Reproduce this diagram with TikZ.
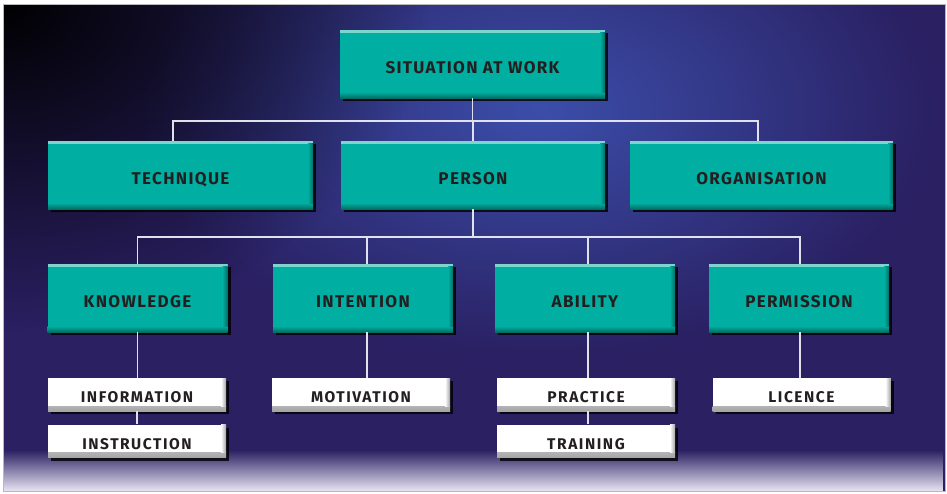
\documentclass[tikz,border=0pt]{standalone}
\usepackage{fontspec}
\newfontfamily\tfont{Fira Sans}[LetterSpace=8]
\newfontfamily\wfont{Fira Sans}[LetterSpace=10]
\usetikzlibrary{shadows,fadings}
\definecolor{tealbox}{RGB}{0,174,162}
\definecolor{teallight}{RGB}{125,214,206}
\definecolor{tealdark}{RGB}{0,110,100}
\definecolor{txt}{RGB}{35,31,32}
\definecolor{bgbase}{RGB}{42,32,98}
\definecolor{glow}{RGB}{60,78,170}
\definecolor{lav}{RGB}{234,230,244}
\definecolor{connc}{RGB}{225,225,238}
\definecolor{wgray}{RGB}{165,165,165}
\tikzfading[name=radfade, inner color=transparent!0, outer color=transparent!100]
\tikzfading[name=upfade, top color=transparent!100, bottom color=transparent!0]
\begin{document}
\begin{tikzpicture}[x=1pt,y=-1pt,
  tbox/.style={rectangle, fill=tealbox, inner sep=0pt, text=txt,
    font=\tfont\bfseries\fontsize{17}{20}\selectfont,
    text height=18pt, text depth=0pt,
    drop shadow={shadow xshift=3pt, shadow yshift=-3pt, opacity=0.8, fill=black},
    path picture={
      \fill[teallight] (path picture bounding box.north west) rectangle ([yshift=-2.5pt]path picture bounding box.north east);
      \shade[top color=tealbox, bottom color=tealdark] ([yshift=6pt]path picture bounding box.south west) rectangle (path picture bounding box.south east);
      \shade[left color=tealbox, right color=tealdark] ([xshift=-5pt,yshift=-2.5pt]path picture bounding box.north east) rectangle ([yshift=6pt]path picture bounding box.south east);
    }},
  wbox/.style={rectangle, fill=white, inner sep=0pt, text=txt,
    font=\wfont\bfseries\fontsize{15.5}{18}\selectfont,
    text height=16.5pt, text depth=0pt,
    minimum width=178, minimum height=33,
    drop shadow={shadow xshift=3pt, shadow yshift=-3pt, opacity=0.8, fill=black},
    path picture={
      \shade[top color=white, bottom color=wgray] ([yshift=5pt]path picture bounding box.south west) rectangle (path picture bounding box.south east);
      \shade[left color=white, right color=wgray] ([xshift=-5pt]path picture bounding box.north east) rectangle ([yshift=5pt]path picture bounding box.south east);
    }},
  conn/.style={draw=connc, line width=1.3pt}
]
\useasboundingbox (0,0) rectangle (947,493);
% background
\fill[white] (0,0) rectangle (947,493);
\begin{scope}
\clip (3,4) rectangle (945,491);
\fill[bgbase] (3,4) rectangle (945,491);
\fill[glow, path fading=radfade] (540,110) ellipse (400 and 250);
\fill[black, path fading=radfade] (0,0) ellipse (430 and 330);
\fill[lav, path fading=upfade] (3,450) rectangle (945,491);
\end{scope}
\draw[gray!55, line width=0.8pt] (3,4) rectangle (945,491);

% top
\node[tbox, minimum width=265, minimum height=68] (sit) at (472.5,64) {SITUATION AT WORK};
% level 1
\node[tbox, minimum width=265, minimum height=68] (tech) at (180.5,175) {TECHNIQUE};
\node[tbox, minimum width=264, minimum height=68] (person) at (473,175) {PERSON};
\node[tbox, minimum width=263, minimum height=68] (org) at (761.5,175) {ORGANISATION};
% level 2
\node[tbox, minimum width=180, minimum height=68] (know) at (137.5,298) {KNOWLEDGE};
\node[tbox, minimum width=180, minimum height=68] (inten) at (363,298) {INTENTION};
\node[tbox, minimum width=180, minimum height=68] (abil) at (585,298) {ABILITY};
\node[tbox, minimum width=180, minimum height=68] (perm) at (799,298) {PERMISSION};
% level 3
\node[wbox] (info) at (137,394.5) {INFORMATION};
\node[wbox] (instr) at (137,441) {INSTRUCTION};
\node[wbox] (motiv) at (361,394.5) {MOTIVATION};
\node[wbox] (pract) at (586,394.5) {PRACTICE};
\node[wbox] (train) at (586,441) {TRAINING};
\node[wbox] (lic) at (801.5,394.5) {LICENCE};

% connectors
\coordinate (bus1) at (0,121);
\coordinate (bus2) at (0,237);
\draw[conn] (sit.south) -- (sit.south |- bus1);
\draw[conn] ([xshift=-7.5pt]tech.north) |- ([xshift=-3.5pt]org.north |- bus1) -- ([xshift=-3.5pt]org.north);
\draw[conn] (person.north) -- (person.north |- bus1);
\draw[conn] (person.south) -- (person.south |- bus2);
\draw[conn] (know.north) |- ([xshift=1pt]perm.north |- bus2) -- ([xshift=1pt]perm.north);
\draw[conn] ([xshift=4pt]inten.north) -- ([xshift=4pt]inten.north |- bus2);
\draw[conn] ([xshift=3pt]abil.north) -- ([xshift=3pt]abil.north |- bus2);
\draw[conn] (know.south) -- (know.south |- info.north);
\draw[conn] (info.south) -- (info.south |- instr.north);
\draw[conn] ([xshift=4pt]inten.south) -- ([xshift=4pt]inten.south |- motiv.north);
\draw[conn] ([xshift=3pt]abil.south) -- ([xshift=3pt]abil.south |- pract.north);
\draw[conn] ([xshift=2pt]pract.south) -- ([xshift=2pt]pract.south |- train.north);
\draw[conn] ([xshift=1pt]perm.south) -- ([xshift=1pt]perm.south |- lic.north);
\end{tikzpicture}
\end{document}
